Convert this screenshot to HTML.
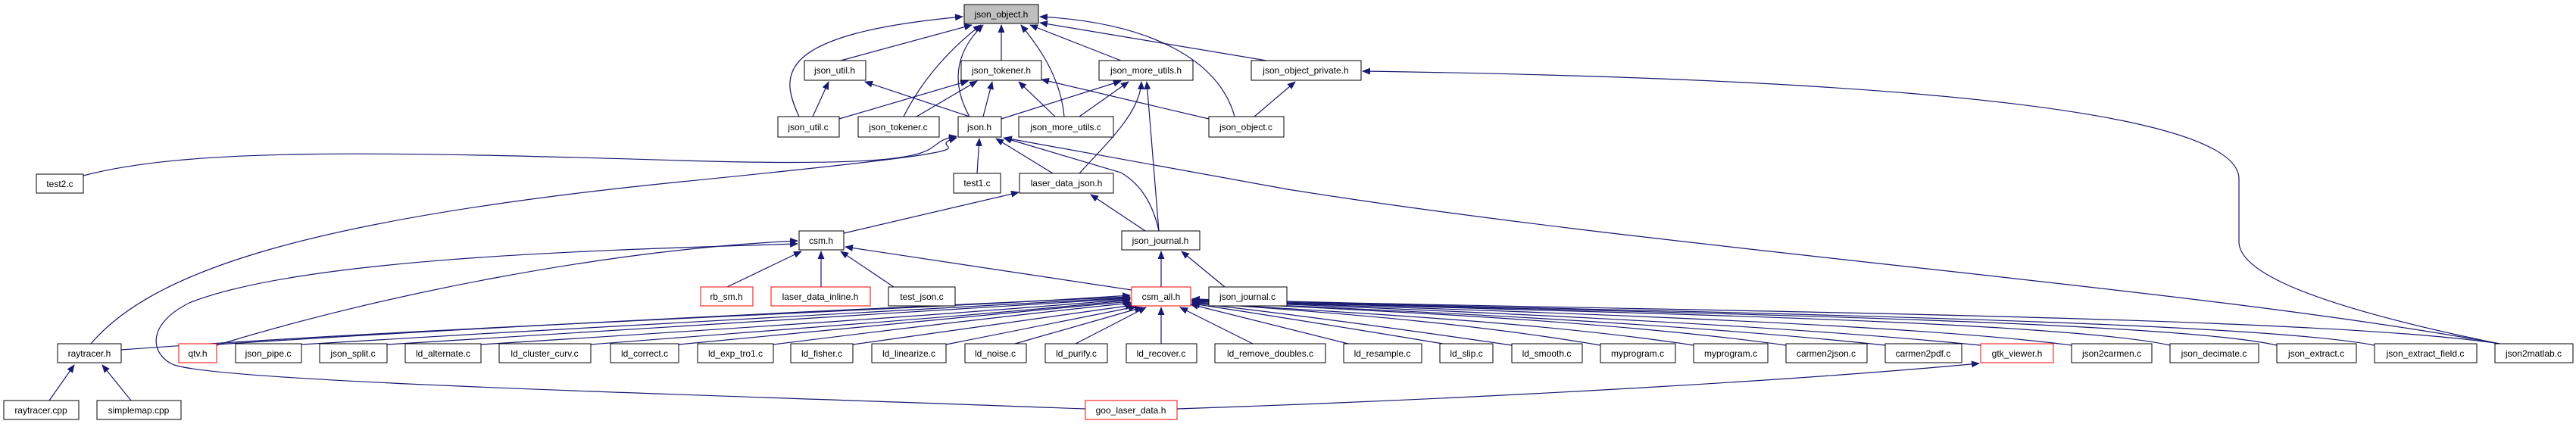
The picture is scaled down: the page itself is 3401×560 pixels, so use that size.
<!DOCTYPE html>
<html><head><meta charset="utf-8"><style>
html,body{margin:0;padding:0;background:#fff;width:3401px;height:560px;overflow:hidden}
svg{display:block}
text{font-family:"Liberation Sans",sans-serif;font-size:12px;fill:#000}
.e{fill:none;stroke:#191970;stroke-width:1.2;marker-end:url(#a)}
.n{fill:#fff;stroke:#000;stroke-width:1}
.r{fill:#fff;stroke:#f00;stroke-width:1}
</style></head><body>
<svg width="3401" height="560" viewBox="0 0 3401 560" xmlns="http://www.w3.org/2000/svg">
<defs><marker id="a" markerWidth="11" markerHeight="9" refX="10" refY="4.5" orient="auto" markerUnits="userSpaceOnUse"><path d="M0,0 L11,4.5 L0,9z" fill="#191970"/></marker></defs>
<g>
<path class="e" d="M1110,80 L1283,33"/>
<path class="e" d="M1055,154 C1030,100 1020,45 1271,22"/>
<path class="e" d="M1322,80 L1322,33"/>
<path class="e" d="M1193,154 C1220,100 1260,60 1295,33"/>
<path class="e" d="M1280,154 C1250,100 1270,60 1298,33"/>
<path class="e" d="M1405,154 C1400,100 1370,60 1348,33"/>
<path class="e" d="M1480,80 L1360,33"/>
<path class="e" d="M1630,154 C1610,80 1520,30 1373,22"/>
<path class="e" d="M1672,80 L1373,30"/>
<path class="e" d="M1073,154 L1094,108"/>
<path class="e" d="M1280,154 L1142,108"/>
<path class="e" d="M1108,157 L1278,107"/>
<path class="e" d="M1210,154 L1290,107"/>
<path class="e" d="M1298,154 L1310,108"/>
<path class="e" d="M1393,154 L1345,108"/>
<path class="e" d="M1596,157 L1375,105"/>
<path class="e" d="M1322,157 L1480,107"/>
<path class="e" d="M1425,154 L1490,108"/>
<path class="e" d="M1425,229 C1460,190 1505,150 1507,108"/>
<path class="e" d="M1530,305 L1514,108"/>
<path class="e" d="M1656,154 L1710,108"/>
<path class="e" d="M3300,454 C3010,395 2957,350 2956,320 L2956,235 C2950,120 2200,100 1799,94"/>
<path class="e" d="M110,232 C250,195 500,200 900,212 S1200,190 1263,180"/>
<path class="e" d="M120,454 C200,360 400,290 900,240 S1200,200 1263,182"/>
<path class="e" d="M1290,229 L1293,183"/>
<path class="e" d="M1390,229 L1315,183"/>
<path class="e" d="M1530,305 C1520,260 1500,240 1480,228 L1325,182"/>
<path class="e" d="M3300,454 C2900,380 2200,330 1700,250 L1326,182"/>
<path class="e" d="M1114,308 L1345,254"/>
<path class="e" d="M1512,305 L1440,257"/>
<path class="e" d="M1533,379 L1533,332"/>
<path class="e" d="M1617,379 L1560,332"/>
<path class="e" d="M960,379 L1058,332"/>
<path class="e" d="M1084,379 L1084,332"/>
<path class="e" d="M1180,379 L1110,332"/>
<path class="e" d="M1494,383 L1116,326"/>
<path class="e" d="M286,456 C500,390 800,330 1053,318"/>
<path class="e" d="M1433,540 C900,520 300,505 230,482 C200,470 190,430 250,400 C400,340 800,330 1053,322"/>
<path class="e" d="M1554,540 C2000,525 2400,500 2613,480"/>
<path class="e" d="M65,529 L98,482"/>
<path class="e" d="M173,529 L135,482"/>
<!-- to csm_all.h -->
<path class="e" d="M160,462 C600,430 1200,410 1492,390"/>
<path class="e" d="M286,455 C700,428 1200,405 1492,392"/>
<path class="e" d="M398,455 C800,430 1250,408 1492,393"/>
<path class="e" d="M511,455 C900,430 1250,410 1492,394"/>
<path class="e" d="M635,455 C1000,432 1300,412 1492,395"/>
<path class="e" d="M780,455 C1100,430 1350,412 1492,396"/>
<path class="e" d="M896,455 C1150,430 1380,410 1492,398"/>
<path class="e" d="M1021,455 Q1300,420 1494,400"/>
<path class="e" d="M1126,455 L1496,403"/>
<path class="e" d="M1249,455 L1500,405"/>
<path class="e" d="M1340,454 L1508,406"/>
<path class="e" d="M1420,454 L1513,406"/>
<path class="e" d="M1533,454 L1533,406"/>
<path class="e" d="M1654,454 L1558,406"/>
<path class="e" d="M1780,454 L1572,402"/>
<path class="e" d="M1905,454 Q1700,420 1574,401"/>
<path class="e" d="M1996,456 Q1750,420 1574,400"/>
<path class="e" d="M2113,456 C1900,420 1700,410 1574,399"/>
<path class="e" d="M2236,456 C2000,420 1700,410 1574,399"/>
<path class="e" d="M2358,456 C2100,420 1750,408 1574,398"/>
<path class="e" d="M2489,456 C2200,425 1800,408 1574,398"/>
<path class="e" d="M2615,456 C2300,425 1850,408 1574,397"/>
<path class="e" d="M2735,456 C2500,425 1900,408 1574,397"/>
<path class="e" d="M2865,456 C2700,420 1950,410 1574,396"/>
<path class="e" d="M3006,456 C2850,420 2000,410 1574,396"/>
<path class="e" d="M3135,456 C2950,420 2050,410 1574,395"/>
<path class="e" d="M3300,454 C3050,415 2100,410 1574,395"/>
</g>
<g>
<rect x="1273" y="6" width="98" height="25" fill="#bfbfbf" stroke="#000"/><text x="1322" y="23" text-anchor="middle">json_object.h</text>
<rect class="n" x="1062" y="80" width="81" height="26"/><text x="1102" y="97" text-anchor="middle">json_util.h</text>
<rect class="n" x="1269" y="80" width="106" height="26"/><text x="1322" y="97" text-anchor="middle">json_tokener.h</text>
<rect class="n" x="1451" y="80" width="124" height="26"/><text x="1513" y="97" text-anchor="middle">json_more_utils.h</text>
<rect class="n" x="1652" y="80" width="145" height="26"/><text x="1724" y="97" text-anchor="middle">json_object_private.h</text>
<rect class="n" x="1027" y="154" width="81" height="27"/><text x="1067" y="172" text-anchor="middle">json_util.c</text>
<rect class="n" x="1133" y="154" width="107" height="27"/><text x="1186" y="172" text-anchor="middle">json_tokener.c</text>
<rect class="n" x="1265" y="154" width="57" height="27"/><text x="1293" y="172" text-anchor="middle">json.h</text>
<rect class="n" x="1345" y="154" width="125" height="27"/><text x="1407" y="172" text-anchor="middle">json_more_utils.c</text>
<rect class="n" x="1596" y="154" width="99" height="27"/><text x="1645" y="172" text-anchor="middle">json_object.c</text>
<rect class="n" x="48" y="230" width="62" height="25"/><text x="79" y="247" text-anchor="middle">test2.c</text>
<rect class="n" x="1259" y="229" width="62" height="26"/><text x="1290" y="246" text-anchor="middle">test1.c</text>
<rect class="n" x="1346" y="229" width="124" height="26"/><text x="1408" y="246" text-anchor="middle">laser_data_json.h</text>
<rect class="n" x="1055" y="305" width="59" height="25"/><text x="1084" y="322" text-anchor="middle">csm.h</text>
<rect class="n" x="1481" y="305" width="103" height="25"/><text x="1532" y="322" text-anchor="middle">json_journal.h</text>
<rect class="r" x="925" y="379" width="69" height="25"/><text x="959" y="396" text-anchor="middle">rb_sm.h</text>
<rect class="r" x="1018" y="379" width="131" height="25"/><text x="1083" y="396" text-anchor="middle">laser_data_inline.h</text>
<rect class="n" x="1173" y="379" width="88" height="25"/><text x="1217" y="396" text-anchor="middle">test_json.c</text>
<rect class="r" x="1494" y="379" width="78" height="25"/><text x="1533" y="396" text-anchor="middle">csm_all.h</text>
<rect class="n" x="1596" y="379" width="103" height="25"/><text x="1647" y="396" text-anchor="middle">json_journal.c</text>
</g>
<g>
<rect class="n" x="76" y="454" width="84" height="25"/><text x="118" y="471" text-anchor="middle">raytracer.h</text>
<rect class="r" x="236" y="454" width="50" height="25"/><text x="261" y="471" text-anchor="middle">qtv.h</text>
<rect class="n" x="311" y="454" width="87" height="25"/><text x="354" y="471" text-anchor="middle">json_pipe.c</text>
<rect class="n" x="422" y="454" width="89" height="25"/><text x="466" y="471" text-anchor="middle">json_split.c</text>
<rect class="n" x="535" y="454" width="100" height="25"/><text x="585" y="471" text-anchor="middle">ld_alternate.c</text>
<rect class="n" x="659" y="454" width="121" height="25"/><text x="719" y="471" text-anchor="middle">ld_cluster_curv.c</text>
<rect class="n" x="806" y="454" width="90" height="25"/><text x="851" y="471" text-anchor="middle">ld_correct.c</text>
<rect class="n" x="921" y="454" width="100" height="25"/><text x="971" y="471" text-anchor="middle">ld_exp_tro1.c</text>
<rect class="n" x="1044" y="454" width="82" height="25"/><text x="1085" y="471" text-anchor="middle">ld_fisher.c</text>
<rect class="n" x="1151" y="454" width="98" height="25"/><text x="1200" y="471" text-anchor="middle">ld_linearize.c</text>
<rect class="n" x="1274" y="454" width="81" height="25"/><text x="1314" y="471" text-anchor="middle">ld_noise.c</text>
<rect class="n" x="1380" y="454" width="82" height="25"/><text x="1421" y="471" text-anchor="middle">ld_purify.c</text>
<rect class="n" x="1487" y="454" width="93" height="25"/><text x="1533" y="471" text-anchor="middle">ld_recover.c</text>
<rect class="n" x="1604" y="454" width="146" height="25"/><text x="1677" y="471" text-anchor="middle">ld_remove_doubles.c</text>
<rect class="n" x="1774" y="454" width="103" height="25"/><text x="1825" y="471" text-anchor="middle">ld_resample.c</text>
<rect class="n" x="1901" y="454" width="70" height="25"/><text x="1936" y="471" text-anchor="middle">ld_slip.c</text>
<rect class="n" x="1996" y="454" width="93" height="25"/><text x="2042" y="471" text-anchor="middle">ld_smooth.c</text>
<rect class="n" x="2113" y="454" width="99" height="25"/><text x="2162" y="471" text-anchor="middle">myprogram.c</text>
<rect class="n" x="2236" y="454" width="98" height="25"/><text x="2285" y="471" text-anchor="middle">myprogram.c</text>
<rect class="n" x="2358" y="454" width="107" height="25"/><text x="2411" y="471" text-anchor="middle">carmen2json.c</text>
<rect class="n" x="2489" y="454" width="101" height="25"/><text x="2539" y="471" text-anchor="middle">carmen2pdf.c</text>
<rect class="r" x="2615" y="454" width="96" height="25"/><text x="2663" y="471" text-anchor="middle">gtk_viewer.h</text>
<rect class="n" x="2735" y="454" width="106" height="25"/><text x="2788" y="471" text-anchor="middle">json2carmen.c</text>
<rect class="n" x="2865" y="454" width="117" height="25"/><text x="2923" y="471" text-anchor="middle">json_decimate.c</text>
<rect class="n" x="3006" y="454" width="105" height="25"/><text x="3058" y="471" text-anchor="middle">json_extract.c</text>
<rect class="n" x="3135" y="454" width="135" height="25"/><text x="3202" y="471" text-anchor="middle">json_extract_field.c</text>
<rect class="n" x="3294" y="454" width="103" height="25"/><text x="3345" y="471" text-anchor="middle">json2matlab.c</text>
<rect class="n" x="5" y="529" width="99" height="25"/><text x="54" y="546" text-anchor="middle">raytracer.cpp</text>
<rect class="n" x="128" y="529" width="111" height="25"/><text x="183" y="546" text-anchor="middle">simplemap.cpp</text>
<rect class="r" x="1433" y="529" width="121" height="25"/><text x="1493" y="546" text-anchor="middle">goo_laser_data.h</text>
</g>
</svg>
</body></html>
